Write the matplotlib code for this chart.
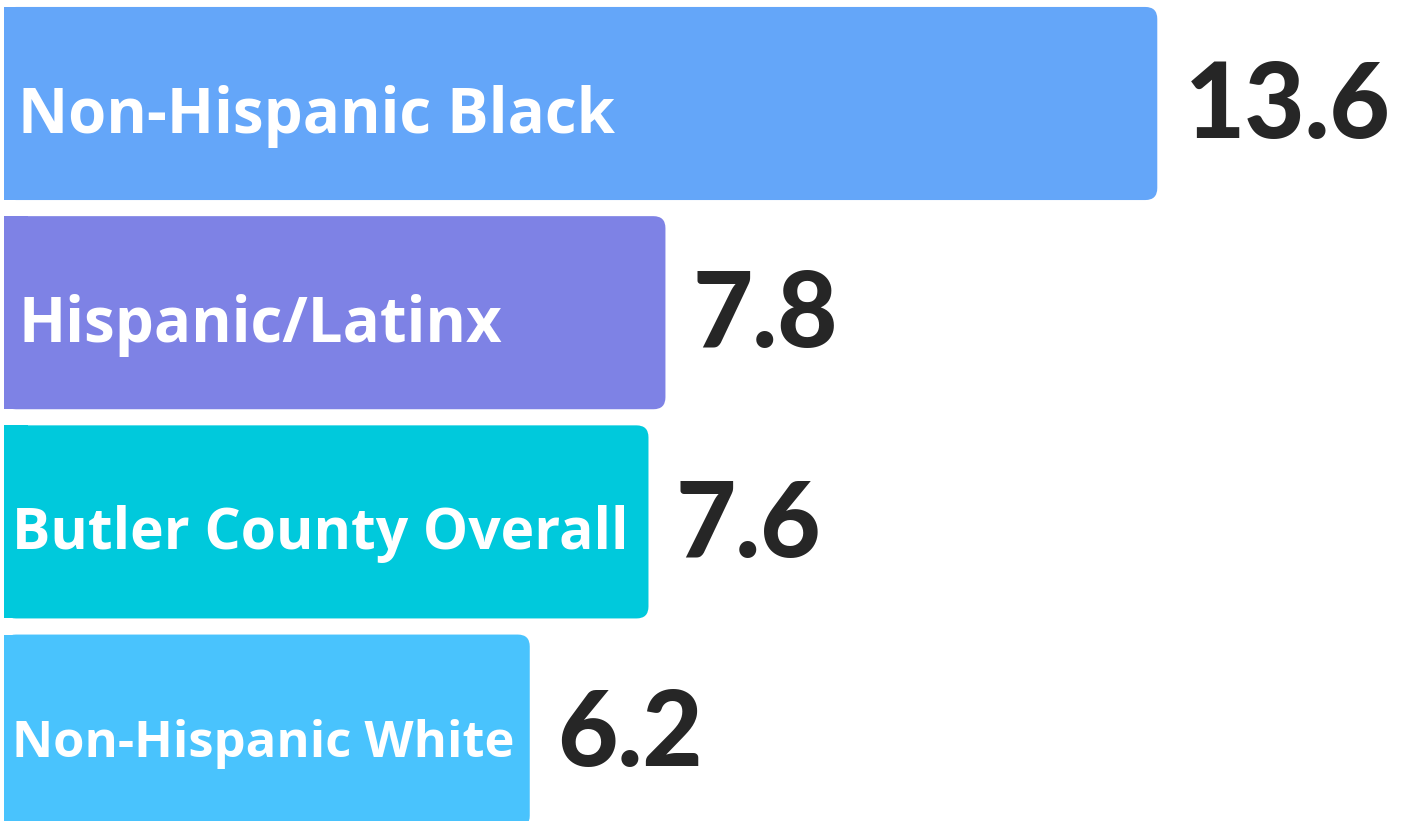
import matplotlib

matplotlib.use("Agg")
import matplotlib.pyplot as plt
from matplotlib.patches import FancyBboxPatch, Rectangle

groups = ["Non-Hispanic Black", "Hispanic/Latinx", "Butler County Overall", "Non-Hispanic White"]
values = [13.6, 7.8, 7.6, 6.2]
colors = ["#64A6F9", "#7E82E5", "#00C9DC", "#49C3FD"]
label_sizes = [44.5, 44.5, 41, 36.5]
label_pad = [0.17, 0.17, 0.10, 0.10]

W, H, DPI = 14.12, 8.21, 100
fig = plt.figure(figsize=(W, H), dpi=DPI)
ax = fig.add_axes([0, 0, 1, 1])
ax.set_axis_off()

px_per_unit = 84.8
row_px = 209.2
ax.set_xlim(-4 / px_per_unit, (W * DPI - 4) / px_per_unit)
ax.set_ylim((H * DPI - 103.5) / row_px, -103.5 / row_px)

bar_h = 0.923
r_x = 12 / px_per_unit
aspect = px_per_unit / row_px

for i, (name, val, col) in enumerate(zip(groups, values, colors)):
    y0 = i - bar_h / 2
    box = FancyBboxPatch(
        (0, y0), val, bar_h,
        boxstyle=f"round,pad=0,rounding_size={r_x}",
        mutation_aspect=aspect,
        facecolor=col, edgecolor="none",
    )
    ax.add_patch(box)
    ax.add_patch(Rectangle((0, y0), 2 * r_x, bar_h, facecolor=col, edgecolor="none"))
    ax.text(label_pad[i], i + 0.06, name, color="white", fontsize=label_sizes[i],
            fontfamily="Open Sans", fontweight="bold", va="center", ha="left")
    ax.text(val + 0.32, i + 0.02, f"{val:.1f}", color="#262626", fontsize=75,
            fontfamily="Lato", fontweight="black", va="center", ha="left")

fig.savefig("out.png", dpi=DPI)
